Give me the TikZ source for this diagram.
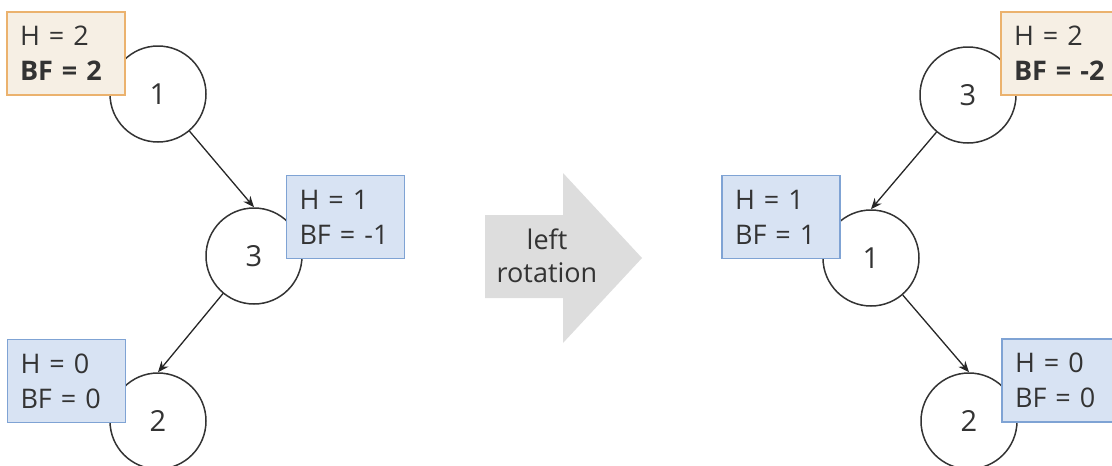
\documentclass[tikz,border=0pt]{standalone}
\usepackage{fontspec}
\setmainfont{Open Sans}
\usetikzlibrary{arrows.meta}
\definecolor{txt}{HTML}{333333}
\definecolor{ofill}{HTML}{F6EFE4}
\definecolor{odraw}{HTML}{EBB26E}
\definecolor{bfill}{HTML}{D8E3F3}
\definecolor{bdraw}{HTML}{7FA3D4}
\definecolor{garrow}{HTML}{DDDDDD}
\tikzset{
  treenode/.style={circle, draw=txt, line width=1.5pt, fill=white, minimum size=96pt, inner sep=0pt,
    text=txt, font=\fontsize{29}{34}\selectfont},
  infobox/.style={rectangle, line width=1.5pt, inner xsep=13pt, inner ysep=0pt, text width=92pt,
    minimum height=83pt, align=left, text=txt, font=\fontsize{27}{35}\selectfont},
  obox/.style={infobox, fill=ofill, draw=odraw},
  bbox/.style={infobox, fill=bfill, draw=bdraw},
  edge/.style={draw=black!85, line width=1.3pt, -{Stealth[length=11pt,width=9pt]}},
  arrowtext/.style={align=center, text=txt, font=\fontsize{27}{33}\selectfont}
}
\begin{document}
\begin{tikzpicture}[x=1pt,y=-1pt]
\useasboundingbox (0,0) rectangle (1112,466);
% left tree
\node[treenode] (l1) at (158,94) {1};
\node[treenode] (l3) at (254,256) {3};
\node[treenode] (l2) at (158,421) {2};
\draw[edge] (l1) -- (l3.north);
\draw[edge] (l3) -- (l2.north);
\node[obox] (lb1) at (66,53.5) {H = 2\\\textbf{BF = 2}};
\node[bbox] (lb3) at (345.5,217) {H = 1\\BF = -1};
\node[bbox] (lb2) at (66.5,381) {H = 0\\BF = 0};
% big arrow
\coordinate (a1) at (485,215);
\coordinate (a2) at (563,215);
\coordinate (a3) at (563,173);
\coordinate (a4) at (642,258);
\coordinate (a5) at (563,343);
\coordinate (a6) at (563,298);
\coordinate (a7) at (485,298);
\fill[garrow] (a1) -- (a2) -- (a3) -- (a4) -- (a5) -- (a6) -- (a7) -- cycle;
\node[arrowtext] (rot) at (547,256) {left\\rotation};
% right tree
\node[treenode] (r3) at (968,95) {3};
\node[treenode] (r1) at (871,258) {1};
\node[treenode] (r2) at (969,421) {2};
\draw[edge] (r3) -- (r1.north);
\draw[edge] (r1) -- (r2.north);
\node[obox] (rb3) at (1060,53.5) {H = 2\\\textbf{BF = -2}};
\node[bbox] (rb1) at (781,217) {H = 1\\BF = 1};
\node[bbox] (rb2) at (1061,380.5) {H = 0\\BF = 0};
\end{tikzpicture}
\end{document}
